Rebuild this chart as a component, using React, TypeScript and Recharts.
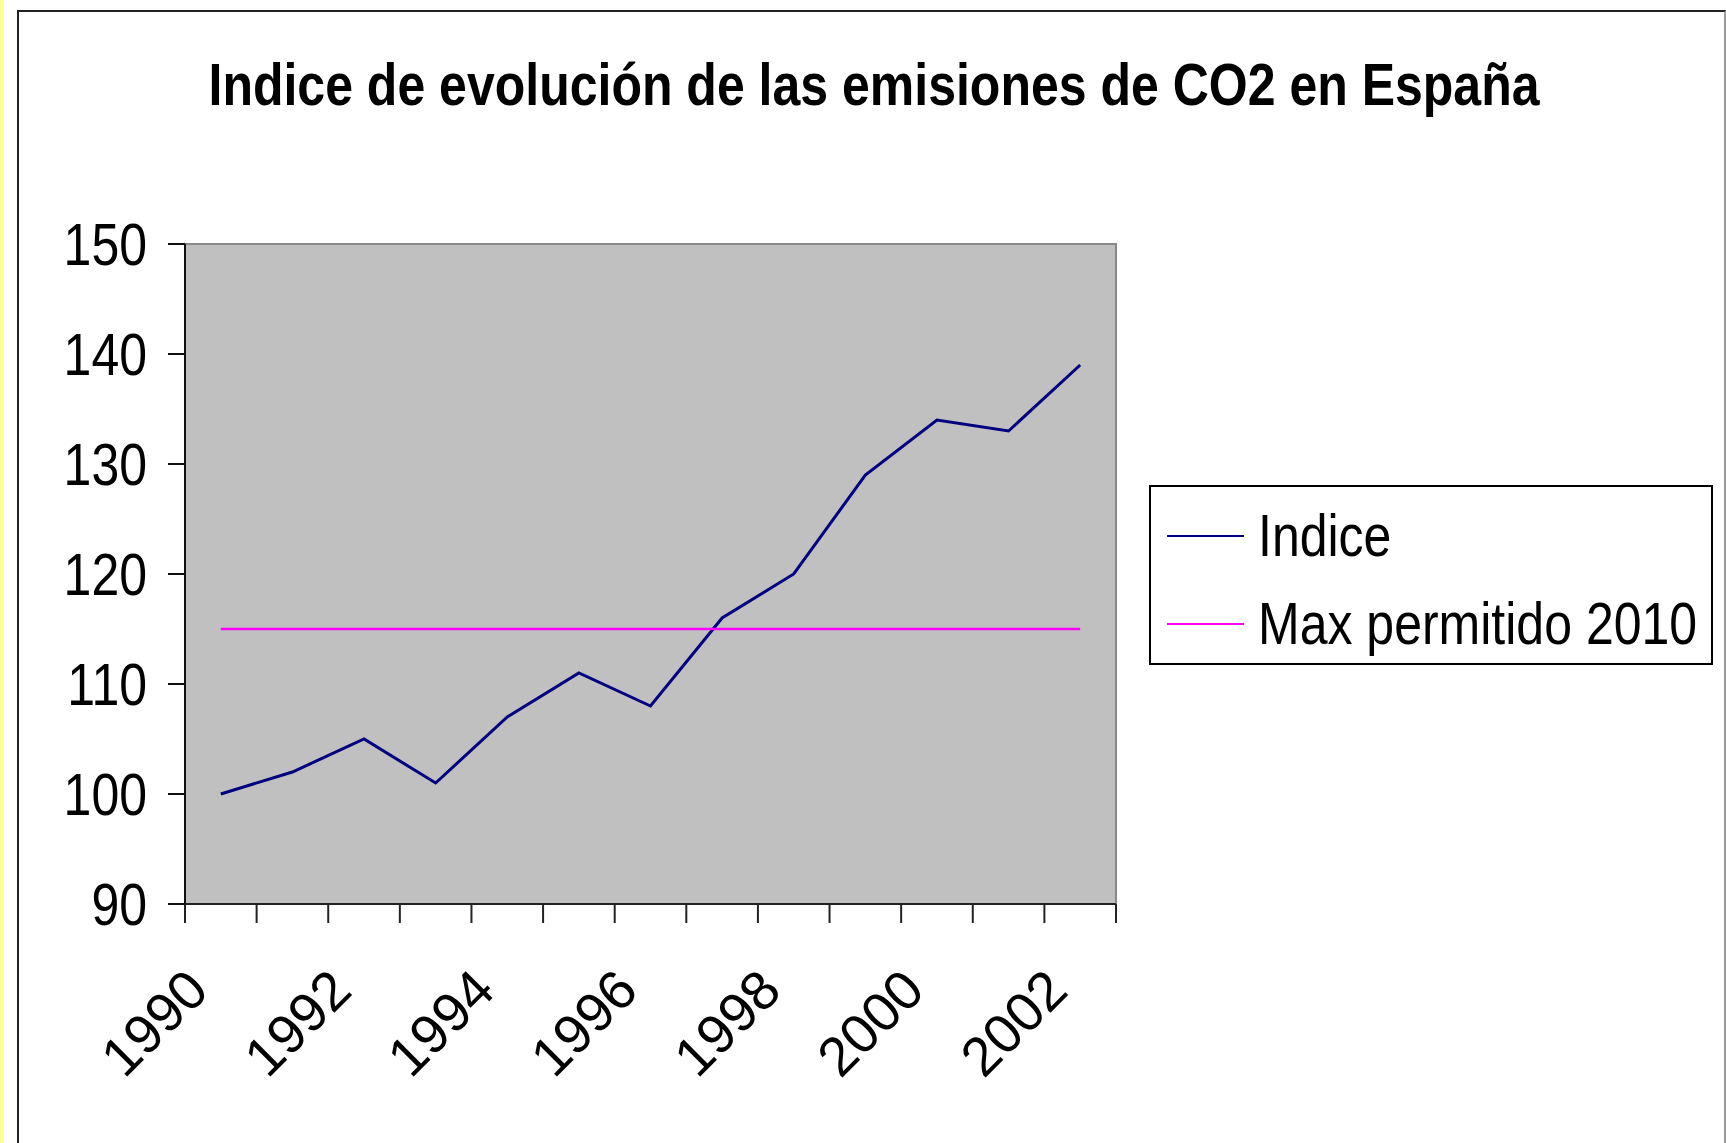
import { LineChart, Line, XAxis, YAxis, Legend, ReferenceArea } from "recharts";

const years = [1990, 1991, 1992, 1993, 1994, 1995, 1996, 1997, 1998, 1999, 2000, 2001, 2002];
const indice = [100, 102, 105, 101, 107, 111, 108, 116, 120, 129, 134, 133, 139];
const maxPermitido = [115, 115, 115, 115, 115, 115, 115, 115, 115, 115, 115, 115, 115];
const yTicks = [90, 100, 110, 120, 130, 140, 150];
const yearLabels = [1990, 1992, 1994, 1996, 1998, 2000, 2002];

// category boundaries, where the Excel-style tick marks sit
const boundaries = [...years.map((y) => y - 0.5), years[years.length - 1] + 0.5];

const data = years.map((year, i) => ({ year, indice: indice[i], max: maxPermitido[i] }));

const FONT = '"Liberation Sans", Arial, sans-serif';
const STRETCH = 1.18;

const YTick = ({ x, y, payload }: any) => (
  <g transform={`translate(${x},${y})`}>
    <text
      transform={`scale(1,${STRETCH})`}
      textAnchor="end"
      dy="0.36em"
      fontSize={50}
      fontFamily={FONT}
      fill="#000"
    >
      {payload.value}
    </text>
  </g>
);

const NoLabel = () => <g />;

const XLabel = ({ x, y, payload }: any) => {
  const tx = x - 10;
  const ty = y + 70;
  return (
    <text
      x={tx}
      y={ty}
      transform={`rotate(-45, ${tx}, ${ty})`}
      textAnchor="end"
      fontSize={55}
      fontFamily={FONT}
      fill="#000"
    >
      {payload.value}
    </text>
  );
};

const LegendBox = ({ payload }: any) => (
  <div
    style={{
      position: "relative",
      width: 564,
      height: 180,
      boxSizing: "border-box",
      border: "2px solid #000",
      background: "#fff",
    }}
  >
    {(payload || []).map((entry: any, i: number) => (
      <div key={entry.value}>
        <div
          style={{
            position: "absolute",
            left: 16,
            top: 48 + i * 88,
            width: 77,
            height: 2,
            background: entry.color,
          }}
        />
        <div
          style={{
            position: "absolute",
            left: 107,
            top: 19 + i * 88,
            fontFamily: FONT,
            fontSize: 50,
            lineHeight: "50px",
            whiteSpace: "nowrap",
            color: "#000",
            transform: `scaleY(${STRETCH})`,
            transformOrigin: "0 0",
          }}
        >
          {entry.value}
        </div>
      </div>
    ))}
  </div>
);

export default function App() {
  return (
    <div
      style={{
        position: "absolute",
        left: 0,
        top: 0,
        width: 1726,
        height: 1143,
        overflow: "hidden",
        background: "#fff",
      }}
    >
      <div style={{ position: "absolute", left: 0, top: 0, width: 4, height: 1143, background: "#FFFF99" }} />
      <div
        style={{
          position: "absolute",
          left: 17,
          top: 10,
          width: 1709,
          height: 1200,
          boxSizing: "border-box",
          borderLeft: "2px solid #222",
          borderTop: "2px solid #222",
          borderRight: "2px solid #999",
        }}
      />
      <div
        style={{
          position: "absolute",
          left: -126,
          top: 55,
          width: 2000,
          textAlign: "center",
          fontFamily: FONT,
          fontWeight: "bold",
          fontSize: 50,
          lineHeight: "50px",
          whiteSpace: "nowrap",
          color: "#000",
          transform: `scaleY(${STRETCH})`,
          transformOrigin: "0 0",
        }}
      >
        Indice de evolución de las emisiones de CO2 en España
      </div>
      <div style={{ position: "absolute", left: 0, top: 0 }}>
        <LineChart
          width={1726}
          height={1143}
          data={data}
          margin={{ top: 244, right: 610, bottom: 90, left: 85 }}
        >
          <ReferenceArea
            xAxisId="a_ticks"
            x1={boundaries[0]}
            x2={boundaries[boundaries.length - 1]}
            y1={90}
            y2={150}
            fill="#C0C0C0"
            fillOpacity={1}
            stroke="#888"
            strokeWidth={2}
          />
          <XAxis
            xAxisId="b_labels"
            dataKey="year"
            type="number"
            domain={[boundaries[0], boundaries[boundaries.length - 1]]}
            ticks={yearLabels}
            interval={0}
            tick={<XLabel />}
            tickSize={0}
            tickMargin={0}
            height={130}
            axisLine={false}
            tickLine={false}
          />
          <XAxis
            xAxisId="a_ticks"
            dataKey="year"
            type="number"
            domain={[boundaries[0], boundaries[boundaries.length - 1]]}
            ticks={boundaries}
            interval={0}
            tick={<NoLabel />}
            tickSize={19}
            height={19}
            axisLine={{ stroke: "#222", strokeWidth: 2 }}
            tickLine={{ stroke: "#222", strokeWidth: 2 }}
          />
          <YAxis
            type="number"
            domain={[90, 150]}
            ticks={yTicks}
            interval={0}
            width={100}
            tickSize={17}
            tickMargin={21}
            tick={<YTick />}
            axisLine={{ stroke: "#111", strokeWidth: 2 }}
            tickLine={{ stroke: "#111", strokeWidth: 2 }}
          />
          <Legend
            layout="horizontal"
            align="center"
            verticalAlign="middle"
            content={<LegendBox />}
            wrapperStyle={{ left: 1149, top: 485, width: 564, height: 180 }}
          />
          <Line
            xAxisId="a_ticks"
            type="linear"
            dataKey="indice"
            name="Indice"
            stroke="#000080"
            strokeWidth={3}
            dot={false}
            isAnimationActive={false}
          />
          <Line
            xAxisId="a_ticks"
            type="linear"
            dataKey="max"
            name="Max permitido 2010"
            stroke="#FF00FF"
            strokeWidth={2.5}
            dot={false}
            isAnimationActive={false}
          />
        </LineChart>
      </div>
    </div>
  );
}
